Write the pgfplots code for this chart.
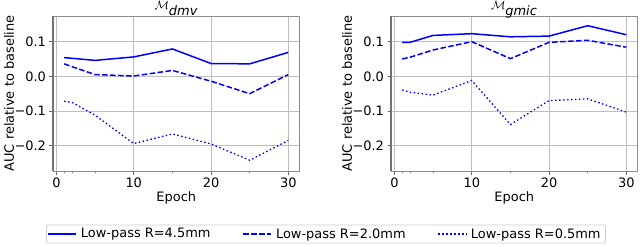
\documentclass[border=0pt]{standalone}
\usepackage{pgfplots}
\pgfplotsset{compat=1.18}
\usepackage{fontspec}
\setmainfont{DejaVu Sans}
\definecolor{lineblue}{RGB}{0,0,255}
\pgfplotsset{
  myaxis/.style={
    scale only axis, width=246.5bp, height=155bp,
    xmin=-0.45, xmax=31.45, ymin=-0.273, ymax=0.174,
    xtick={0,10,20,30},
    minor xtick={1,2,5,15,25},
    ytick={-0.2,-0.1,0,0.1},
    yticklabels={−0.2,−0.1,0.0,0.1},
    /pgf/number format/assume math mode=true,
    grid=major,
    major grid style={color=black!25, line width=0.8bp},
    axis line style={color=black!45, line width=0.8bp},
    major tick length=3.5bp, minor tick length=2bp,
    every tick/.style={color=black!60, line width=0.8bp},
    tick align=outside, xtick pos=bottom, ytick pos=left,
    tick label style={font=\fontsize{13}{15}\selectfont},
    label style={font=\fontsize{13}{15}\selectfont},
    xlabel={Epoch},
    ylabel={AUC relative to baseline},
    xlabel style={at={(axis description cs:0.5,-0.174)}, anchor=center},
    ylabel style={at={(axis description cs:-0.1785,0.5)}, anchor=center},
    title style={font=\fontsize{13}{15}\selectfont, at={(axis description cs:0.5,1)}, anchor=base, yshift=0.5bp, inner sep=0bp},
    every axis plot/.append style={line width=1.5bp, color=lineblue},
    legend image code/.code={\draw[#1] (0bp,0bp) -- (28bp,0bp);},
    after end axis/.code={\draw[black!55, line width=2.2bp] (rel axis cs:0,0) -- (rel axis cs:0,1);},
  },
  solidl/.style={solid},
  dashedl/.style={dash pattern=on 5.55bp off 2.4bp},
  dottedl/.style={dash pattern=on 1.5bp off 2.475bp, line width=1.3bp},
}
\begin{document}
\begin{tikzpicture}
\useasboundingbox (-53bp,-76bp) rectangle (587bp,171bp);
\begin{axis}[myaxis,
  title={$\mathcal{M}_{\textit{dmv}}$},
  legend columns=3,
  legend style={at={(axis description cs:1.1075,-0.4065)}, anchor=center,
    draw=black!20, line width=0.8bp, rounded corners=2bp,
    font=\fontsize{13}{15}\selectfont, inner xsep=1bp, inner ysep=2.5bp,
    /tikz/every even column/.append style={column sep=28bp},
    nodes={inner xsep=4bp, inner ysep=1bp}},
]
\addplot[solidl] coordinates {(1,0.054) (2,0.052) (5,0.046) (10,0.056) (15,0.079) (20,0.037) (25,0.036) (30,0.069)};
\addlegendentry{Low-pass R=4.5mm}
\addplot[dashedl] coordinates {(1,0.036) (2,0.028) (5,0.005) (10,0.001) (15,0.017) (20,-0.014) (25,-0.050) (30,0.005)};
\addlegendentry{Low-pass R=2.0mm}
\addplot[dottedl] coordinates {(1,-0.072) (2,-0.075) (5,-0.112) (10,-0.194) (15,-0.166) (20,-0.195) (25,-0.242) (30,-0.185)};
\addlegendentry{Low-pass R=0.5mm}
\end{axis}
\begin{axis}[myaxis, at={(338bp,0bp)},
  title={$\mathcal{M}_{\textit{gmic}}$},
]
\addplot[solidl] coordinates {(1,0.098) (2,0.098) (5,0.118) (10,0.123) (15,0.114) (20,0.116) (25,0.146) (30,0.120)};
\addplot[dashedl] coordinates {(1,0.050) (2,0.055) (5,0.076) (10,0.100) (15,0.051) (20,0.098) (25,0.104) (30,0.084)};
\addplot[dottedl] coordinates {(1,-0.039) (2,-0.046) (5,-0.054) (10,-0.012) (15,-0.139) (20,-0.070) (25,-0.065) (30,-0.103)};
\end{axis}
\end{tikzpicture}
\end{document}
